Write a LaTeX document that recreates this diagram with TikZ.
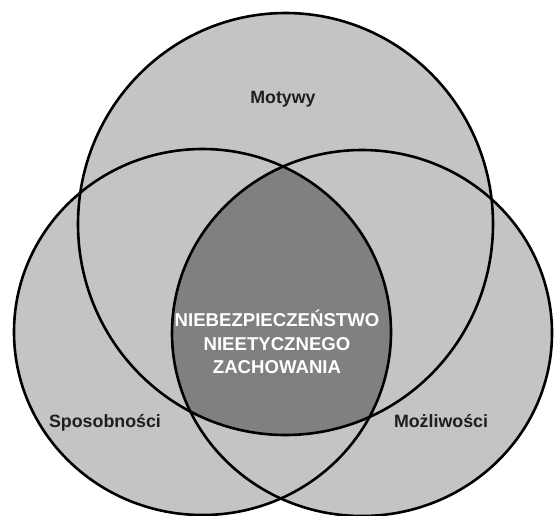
\documentclass[tikz,border=0pt]{standalone}
\usepackage{fontspec}
\setmainfont{Liberation Sans}
\definecolor{lightg}{HTML}{C4C4C4}
\definecolor{darkg}{HTML}{808080}
\definecolor{labelc}{HTML}{1E1E1E}
\tikzset{
  ring/.style={draw=black, line width=2.6pt},
  setlabel/.style={text=labelc, font=\fontsize{17.8}{21}\selectfont\bfseries, inner sep=0pt, anchor=base},
  centerlabel/.style={text=white, font=\fontsize{18.6}{23.5}\selectfont\bfseries, align=center, inner sep=0pt}
}
\begin{document}
\begin{tikzpicture}[x=1pt,y=-1pt]
\useasboundingbox (0,0) rectangle (554,515);
\coordinate (cT) at (285.5,224);
\coordinate (cL) at (202.5,332);
\coordinate (cR) at (362,333);
\begin{scope}
\clip (0,0) rectangle (554,515);
% union in light grey
\fill[lightg] (cT) ellipse [x radius=207.5pt, y radius=211pt];
\fill[lightg] (cL) ellipse [x radius=188.5pt, y radius=183pt];
\fill[lightg] (cR) ellipse [x radius=190pt, y radius=183pt];
% triple intersection in dark grey
\begin{scope}
\clip (cT) ellipse [x radius=207.5pt, y radius=211pt];
\clip (cL) ellipse [x radius=188.5pt, y radius=183pt];
\fill[darkg] (cR) ellipse [x radius=190pt, y radius=183pt];
\end{scope}
% outlines
\draw[ring] (cT) ellipse [x radius=207.5pt, y radius=211pt];
\draw[ring] (cL) ellipse [x radius=188.5pt, y radius=183pt];
\draw[ring] (cR) ellipse [x radius=190pt, y radius=183pt];
\end{scope}
% labels
\node[setlabel] (motywy) at (283,103) {Motywy};
\node[setlabel] (sposob) at (105,427) {Sposobności};
\node[setlabel] (mozliw) at (441,427) {Możliwości};
\node[centerlabel] (risk) at (277,342) {NIEBEZPIECZEŃSTWO\\NIEETYCZNEGO\\ZACHOWANIA};
\end{tikzpicture}
\end{document}
